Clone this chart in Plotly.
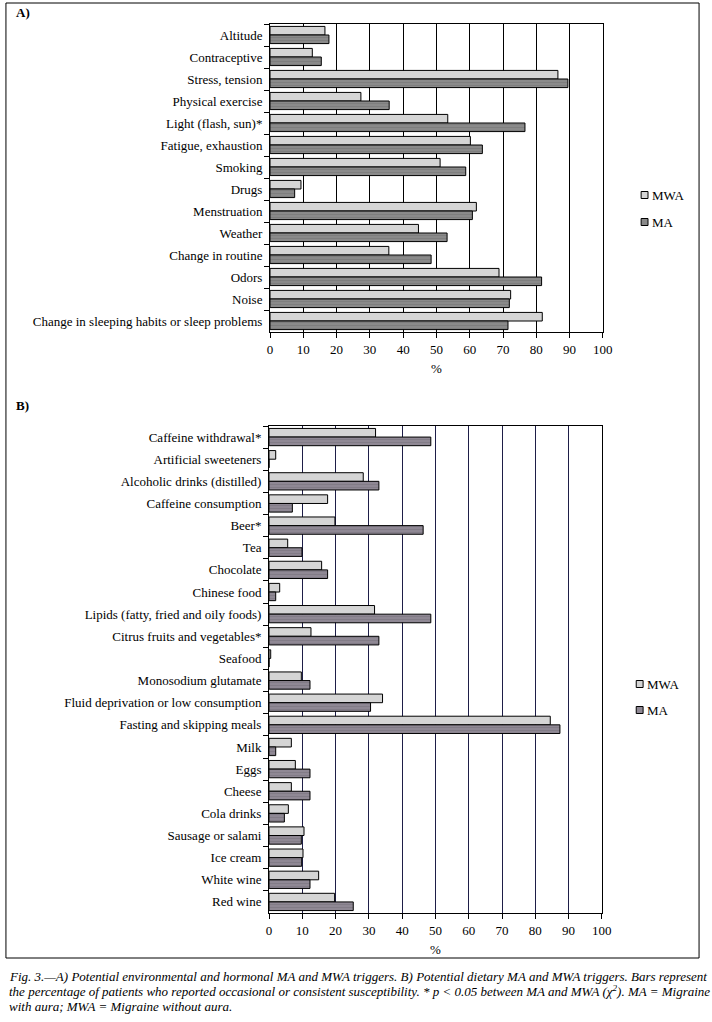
import plotly.graph_objects as go

# ---- Data ----
env_categories = ["Altitude", "Contraceptive", "Stress, tension", "Physical exercise",
                  "Light (flash, sun)*", "Fatigue, exhaustion", "Smoking", "Drugs",
                  "Menstruation", "Weather", "Change in routine", "Odors", "Noise",
                  "Change in sleeping habits or sleep problems"]
env_mwa = [16.5, 12.7, 86.5, 27.3, 53.4, 60.2, 51.1, 9.3, 62.0, 44.6, 35.7, 68.8, 72.3, 81.8]
env_ma = [17.7, 15.4, 89.5, 35.8, 76.6, 63.8, 58.8, 7.4, 60.8, 53.2, 48.4, 81.6, 71.9, 71.5]

diet_categories = ["Caffeine withdrawal*", "Artificial sweeteners", "Alcoholic drinks (distilled)",
                   "Caffeine consumption", "Beer*", "Tea", "Chocolate", "Chinese food",
                   "Lipids (fatty, fried and oily foods)", "Citrus fruits and vegetables*",
                   "Seafood", "Monosodium glutamate", "Fluid deprivation or low consumption",
                   "Fasting and skipping meals", "Milk", "Eggs", "Cheese", "Cola drinks",
                   "Sausage or salami", "Ice cream", "White wine", "Red wine"]
diet_mwa = [32.0, 2.0, 28.3, 17.6, 19.8, 5.6, 15.8, 3.2, 31.7, 12.6, 0.5, 9.7, 34.1, 84.5,
            6.7, 7.9, 6.7, 5.8, 10.5, 10.2, 14.9, 19.7]
diet_ma = [48.6, 0.0, 33.0, 7.0, 46.3, 9.9, 17.6, 2.0, 48.6, 33.0, 0.0, 12.3, 30.5, 87.4,
           2.0, 12.3, 12.3, 4.6, 9.7, 9.8, 12.3, 25.3]

x_ticks = [0, 10, 20, 30, 40, 50, 60, 70, 80, 90, 100]
series_names = ["MWA", "MA"]

W, H = 712, 1022
FONT = "Liberation Serif"
FS = 13


def px(x):
    return x / W


def py(y):
    return 1 - y / H


light = "#d5d5d5"
dark_a = "#8a8a8a"
dark_b = "#8f8894"

fig = go.Figure()

fig.add_trace(go.Bar(y=env_categories, x=env_mwa, orientation="h", name=series_names[0],
                     marker=dict(color=light, line=dict(color="black", width=1)),
                     xaxis="x", yaxis="y"))
fig.add_trace(go.Bar(y=env_categories, x=env_ma, orientation="h", name=series_names[1],
                     marker=dict(color=dark_a, line=dict(color="black", width=1),
                                 pattern=dict(shape="-", fgcolor="#6e6e6e", size=3, solidity=0.3)),
                     xaxis="x", yaxis="y"))
fig.add_trace(go.Bar(y=diet_categories, x=diet_mwa, orientation="h", name=series_names[0],
                     marker=dict(color=light, line=dict(color="black", width=1)),
                     xaxis="x2", yaxis="y2"))
fig.add_trace(go.Bar(y=diet_categories, x=diet_ma, orientation="h", name=series_names[1],
                     marker=dict(color=dark_b, line=dict(color="black", width=1),
                                 pattern=dict(shape="-", fgcolor="#726c78", size=3, solidity=0.3)),
                     xaxis="x2", yaxis="y2"))

xaxis_common = dict(range=[0, 100], tickvals=x_ticks, showline=True, linecolor="black",
                    linewidth=1, mirror=True, ticks="outside", ticklen=5, tickcolor="black",
                    showgrid=True, gridwidth=1, zeroline=False,
                    tickfont=dict(family=FONT, size=FS, color="black"),
                    title=dict(text="%", font=dict(family=FONT, size=FS, color="black"), standoff=8))
yaxis_common = dict(autorange="reversed", showline=True, linecolor="black", linewidth=1,
                    mirror=True, ticks="outside", ticklen=5, tickcolor="black",
                    tickson="boundaries", showgrid=False, ticklabelstandoff=4,
                    tickfont=dict(family=FONT, size=FS, color="black"))

fig.update_layout(
    width=W, height=H,
    margin=dict(l=0, r=0, t=0, b=0),
    paper_bgcolor="white", plot_bgcolor="white",
    barmode="group", bargap=0.22, bargroupgap=0,
    font=dict(family=FONT, size=FS, color="black"),
    xaxis=dict(domain=[px(272), px(611)], anchor="y", gridcolor="black", **xaxis_common),
    yaxis=dict(domain=[py(332), py(24)], anchor="x", **yaxis_common),
    xaxis2=dict(domain=[px(271), px(610)], anchor="y2", gridcolor="#1e1e48", **xaxis_common),
    yaxis2=dict(domain=[py(913), py(426)], anchor="x2", **yaxis_common),
    showlegend=False,
)

# Outer frame
fig.add_shape(type="rect", xref="paper", yref="paper",
              x0=px(3), x1=px(709), y0=py(958), y1=py(3),
              line=dict(color="black", width=1))

# Legends (small square swatches + labels)
legend_specs = [
    (650, [195, 222], [light, dark_a]),
    (645, [684, 710], [light, dark_b]),
]
for lx, lys, cols in legend_specs:
    for name, ly, col in zip(series_names, lys, cols):
        fig.add_shape(type="rect", xref="paper", yref="paper",
                      x0=px(lx), x1=px(lx + 7), y0=py(ly + 3.5), y1=py(ly - 3.5),
                      fillcolor=col, line=dict(color="black", width=1))
        fig.add_annotation(text=name, x=px(lx + 9), y=py(ly), xref="paper", yref="paper",
                           xanchor="left", yanchor="middle", showarrow=False,
                           font=dict(family=FONT, size=FS, color="black"))

# Panel labels
fig.add_annotation(text="<b>A)</b>", x=px(11), y=py(13), xref="paper", yref="paper",
                   xanchor="left", yanchor="middle", showarrow=False,
                   font=dict(family=FONT, size=FS))
fig.add_annotation(text="<b>B)</b>", x=px(11), y=py(405), xref="paper", yref="paper",
                   xanchor="left", yanchor="middle", showarrow=False,
                   font=dict(family=FONT, size=FS))

caption = [
    "Fig. 3.—A) Potential environmental and hormonal MA and MWA triggers. B) Potential dietary MA and MWA triggers. Bars represent",
    "the percentage of patients who reported occasional or consistent susceptibility. * p &lt; 0.05 between MA and MWA (χ<sup>2</sup>). MA = Migraine",
    "with aura; MWA = Migraine without aura.",
]
for i, line in enumerate(caption):
    fig.add_annotation(text="<i>" + line + "</i>", x=px(4), y=py(976 + 15 * i),
                       xref="paper", yref="paper", xanchor="left", yanchor="middle",
                       showarrow=False, font=dict(family=FONT, size=FS, color="black"))

fig.write_html("out.html", config={"displayModeBar": False},
               post_script="document.body.style.margin='0';")
